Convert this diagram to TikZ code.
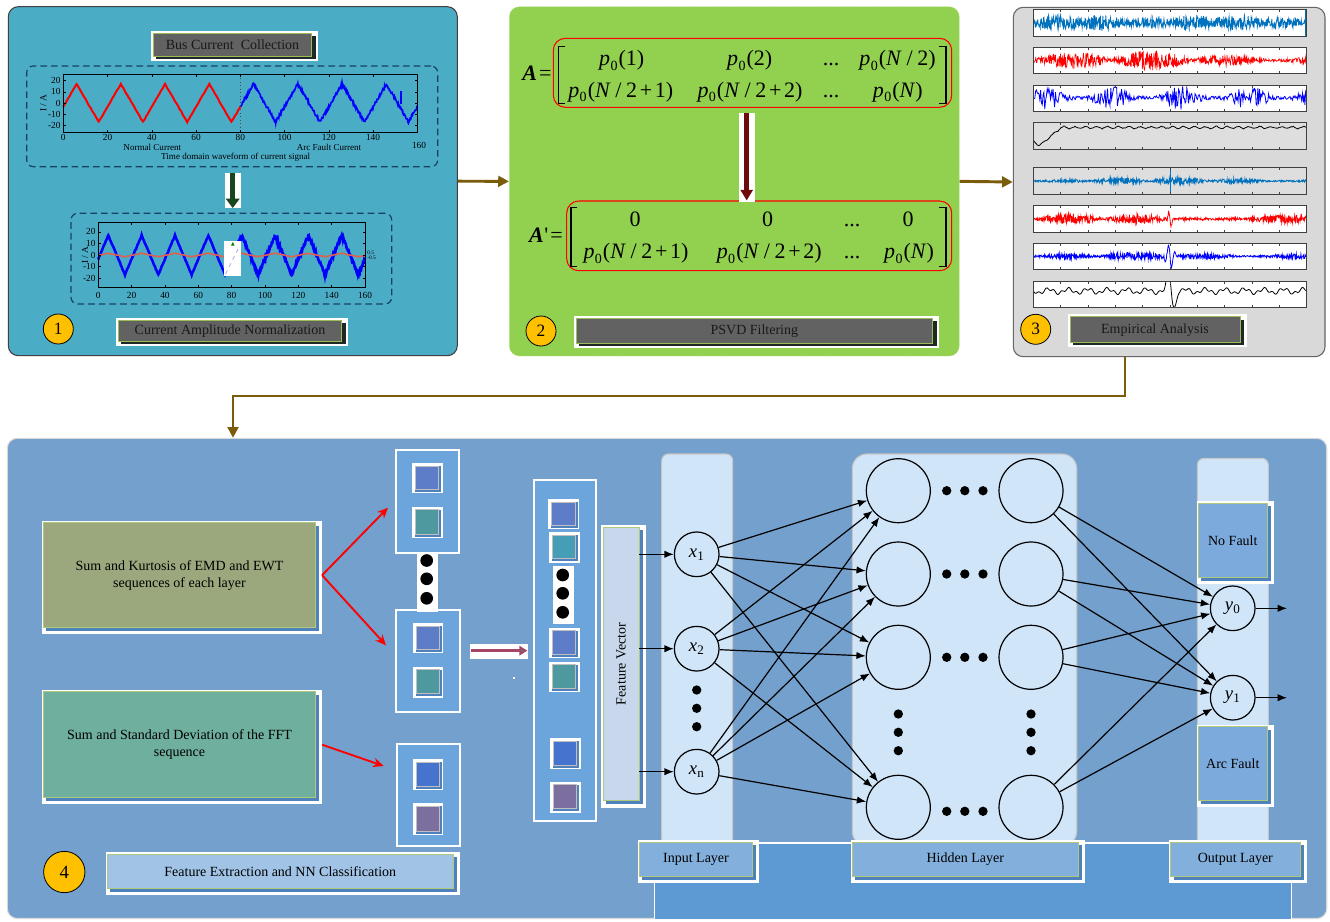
\documentclass[tikz,border=0pt]{standalone}
\usepackage{fontspec}
\setmainfont{Liberation Serif}
\usetikzlibrary{arrows.meta,fit,calc}
\definecolor{pone}{RGB}{75,172,198}
\definecolor{ptwo}{RGB}{146,208,80}
\definecolor{pthree}{RGB}{217,217,217}
\definecolor{pfour}{RGB}{116,160,205}
\definecolor{tgray}{RGB}{98,98,98}
\definecolor{tgreen}{RGB}{155,187,89}
\definecolor{tshadow}{RGB}{30,40,38}
\definecolor{gold}{RGB}{255,192,0}
\definecolor{brownc}{RGB}{122,92,10}
\definecolor{dashblue}{RGB}{25,65,100}
\definecolor{sigblue}{RGB}{0,114,189}
\definecolor{bandc}{RGB}{208,229,248}
\definecolor{colbox}{RGB}{108,165,220}
\definecolor{shadowblue}{RGB}{79,129,189}
\definecolor{sqblue}{RGB}{93,125,200}
\definecolor{sqteal}{RGB}{78,152,160}
\definecolor{sqcyan}{RGB}{70,158,182}
\definecolor{sqroyal}{RGB}{70,115,205}
\definecolor{sqpurple}{RGB}{125,110,160}
\definecolor{olivebox}{RGB}{155,168,125}
\definecolor{tealbox}{RGB}{111,175,158}
\definecolor{fvbox}{RGB}{200,215,235}
\definecolor{lablue}{RGB}{130,175,220}
\definecolor{febox}{RGB}{160,195,230}
\definecolor{deepblue}{RGB}{93,153,210}
\definecolor{outbox}{RGB}{125,170,220}
\definecolor{darkred}{RGB}{110,10,10}
\definecolor{darkgreen}{RGB}{25,70,30}
\definecolor{salmon}{RGB}{225,95,80}
\definecolor{stripgray}{RGB}{222,222,222}
\definecolor{fvarrowc}{RGB}{165,70,100}
\pgfmathdeclarefunction{triw}{1}{%
  \begingroup\pgfmathparse{17-3.4*abs(mod(#1+4,20)-10)}\pgfmathsmuggle\pgfmathresult\endgroup}
% dark title box: x1 y1 x2 y2 name text
\newcommand{\tbox}[6]{%
  \fill[white] ({#1-2},{#2-2.5}) rectangle ({#3+6.5},{#4+4.5});
  \fill[tshadow] ({#1+3},{#2+3}) rectangle ({#3+4},{#4+2.5});
  \node[fit={(#1,#2) (#3,#4)}, inner sep=0pt, fill=tgray, draw=tgreen, line width=0.7pt] (#5) {};
  \node[inner sep=0pt, text=black!90] (#5t) at (#5.center) {#6};}
% light box: x1 y1 x2 y2 name fill text
\newcommand{\gbox}[7]{%
  \fill[white] ({#1-1.6},{#2-2.2}) rectangle ({#3+6.5},{#4+6.5});
  \fill[shadowblue] ({#1+3},{#2+3}) rectangle ({#3+3.5},{#4+3.5});
  \node[fit={(#1,#2) (#3,#4)}, inner sep=0pt, fill=#6, draw=tgreen!80!white, line width=0.6pt] (#5) {};
  \node[inner sep=0pt, align=center] (#5t) at (#5.center) {#7};}
% small square: white frame x1 y1 x2 y2, colour
\newcommand{\sqr}[5]{%
  \fill[white] (#1,#2) rectangle (#3,#4);
  \fill[shadowblue] ({#1+3},{#2+3}) rectangle ({#3-1.5},{#4-1.5});
  \fill[#5] ({#1+3},{#2+3}) rectangle ({#3-4},{#4-4});
  \draw[gray!50, line width=0.4pt] ({#1+3},{#2+3}) rectangle ({#3-4},{#4-4});}
% strip frame with ticks
\newcommand{\stripframe}[2]{%
  \draw[black!75, line width=0.6pt] (1033.3,#1) rectangle (1306.7,#2);
  \foreach \k in {1,...,9}{%
    \draw[black!75, line width=0.4pt] ({1033.3+27.34*\k},#1) -- ++(0,2.5);
    \draw[black!75, line width=0.4pt] ({1033.3+27.34*\k},#2) -- ++(0,-2.5);}}
\begin{document}
\begin{tikzpicture}[x=0.75pt,y=-0.75pt, font=\fontsize{10.5}{12.6}\selectfont,
  brownarrow/.style={draw=brownc, line width=2.2pt, -{Triangle[length=8pt,width=8pt]}},
  neuron/.style={circle, draw, line width=0.9pt, fill=bandc, minimum size=33.5pt, inner sep=0pt, font=\fontsize{14}{14}\selectfont},
  hneuron/.style={circle, draw, line width=0.9pt, fill=bandc, minimum size=48pt, inner sep=0pt},
  netarrow/.style={line width=0.9pt, -{Latex[length=7pt,width=5.5pt]}},
  redarrow/.style={draw=red, line width=1.4pt, -{Stealth[length=8pt,width=7pt]}},
  numc/.style={circle, draw, line width=0.6pt, fill=gold, minimum size=22.5pt, inner sep=0pt, font=\fontsize{13}{13}\selectfont},
  tick/.style={font=\fontsize{7}{7}\selectfont, inner sep=0.5pt},
  lbl/.style={font=\fontsize{6.8}{7}\selectfont, inner sep=0.5pt},
  ent/.style={anchor=base, inner sep=0pt, font=\fontsize{16.5}{16.5}\selectfont},
  hdot/.style={circle, fill=black, minimum size=7pt, inner sep=0pt},
  bdot/.style={circle, fill=black, minimum size=9.5pt, inner sep=0pt},
  dbox/.style={draw=dashblue, line width=0.9pt, dash pattern=on 5pt off 3pt, rounded corners=5pt, inner sep=0pt}
]
\useasboundingbox (0,0) rectangle (1330,921);
\fill[white] (0,0) rectangle (1330,921);

% ================= PANELS =================
\node[fit={(8.3,6.7) (457.3,355.7)}, inner sep=0pt, fill=pone, draw=black!75, line width=0.8pt, rounded corners=7.5pt] (p1) {};
\node[fit={(509.3,6.7) (959.3,356)}, inner sep=0pt, fill=ptwo, draw=ptwo!60!white, line width=0.6pt, dotted, rounded corners=7.5pt] (p2) {};
\node[fit={(1013.3,7.3) (1325,356.7)}, inner sep=0pt, fill=pthree, draw=black!60, line width=0.8pt, rounded corners=7.5pt] (p3) {};
\node[fit={(7.3,438.3) (1326.7,918.5)}, inner sep=0pt, fill=pfour, draw=gray!30, line width=0.8pt, rounded corners=7.5pt] (p4) {};

\draw[brownarrow] (p1.east) -- (p2.west);
\draw[brownarrow] (p2.east) -- (p3.west);
\coordinate (ex) at (1125,0);
\coordinate (ey) at (0,396);
\coordinate (ex2) at (233,0);
\draw[brownarrow] (p3.south -| ex) |- (ex2 |- ey) -- (p4.north -| ex2);

% ================= PANEL 1 =================
\tbox{153.3}{33.3}{311.7}{56.7}{t1}{Bus Current~ Collection}
\node[fit={(26.7,66) (437.7,166.7)}, dbox] (d1) {};
% plot 1
\draw[red, line width=1.5pt] plot[domain=0:80, samples=161, variable=\t] ({63.3+2.2125*\t},{103-1.115*(triw(\t)+0.4*rand)});
\draw[blue, line width=1.2pt] plot[domain=80:160, samples=401, variable=\t] ({63.3+2.2125*\t},{103-1.115*(triw(\t)+1.3*rand)});
\draw[blue, line width=1pt] ({63.3+2.2125*152.6},{103-1.115*11}) -- ({63.3+2.2125*152.6},{103-1.115*(-1)});
\draw[black!70, dotted, line width=0.6pt] (240.3,74.7) -- (240.3,132.7);
\draw[line width=0.6pt] (63.3,74.7) rectangle (417.3,132.7);
\foreach \k [evaluate=\k as \l using int(20*\k)] in {0,...,8}{
  \draw[line width=0.4pt] ({63.3+44.25*\k},132.7) -- ++(0,-2.5);
  \draw[line width=0.4pt] ({63.3+44.25*\k},74.7) -- ++(0,2.5);}
\foreach \k [evaluate=\k as \l using int(20*\k)] in {0,...,7}{
  \node[tick, anchor=north] (xa\k) at ({63.3+44.25*\k},133.6) {\l};}
\node[tick] (xa8) at (419,145.7) {160};
\foreach \v in {-20,-10,0,10,20}{
  \draw[line width=0.4pt] (63.3,{103-1.115*\v}) -- ++(2.5,0);
  \draw[line width=0.4pt] (417.3,{103-1.115*\v}) -- ++(-2.5,0);
  \node[tick, anchor=east] (ya\v) at (61.5,{103-1.115*\v}) {\v};}
\node[tick, rotate=90] (yl1) at (43.3,103) {I / A};
\node[lbl] (nc) at (152.3,147.3) {Normal Current};
\node[lbl] (afc) at (329,147.3) {Arc Fault Current};
\node[lbl] (tdw) at (235.7,157.3) {Time domain waveform of current signal};

% green arrow
\node[fit={(71,213.3) (391.7,304)}, dbox] (d2) {};
\coordinate (gx) at (232.7,0);
\fill[white] (225,173.3) rectangle (240.7,208.3);
\draw[darkgreen, line width=4pt, -{Triangle[length=7pt,width=10pt]}, shorten <=4.5pt, shorten >=3.5pt] (d1.south -| gx) -- (d2.north -| gx);

% plot 2
\draw[blue, line width=1.9pt] plot[domain=0:80, samples=161, variable=\t] ({98.3+1.667*\t},{255-1.16*(triw(\t)+0.5*rand)});
\draw[blue, line width=1.9pt] plot[domain=80:160, samples=321, variable=\t] ({98.3+1.667*\t},{255-1.16*(triw(\t)+1.3*rand)});
\draw[salmon, line width=1.2pt] plot[domain=0:160, samples=161, variable=\t] ({98.3+1.667*\t},{255-1.16*(0.09*triw(\t)+0.15*rand)});
\fill[white] (224.3,240.7) rectangle (240.7,276);
\draw[blue!40, dashed, line width=0.5pt] (225.5,274) -- (239.5,246);
\fill[green!50!black] (231,245.5) -- (234.5,245.5) -- (232.75,242) -- cycle;
\draw[line width=0.6pt] (98.3,222.7) rectangle (365,287.3);
\foreach \k in {0,...,8}{
  \draw[line width=0.4pt] ({98.3+33.34*\k},287.3) -- ++(0,-2.5);
  \draw[line width=0.4pt] ({98.3+33.34*\k},222.7) -- ++(0,2.5);}
\foreach \k [evaluate=\k as \l using int(20*\k)] in {0,...,8}{
  \node[tick] (xb\k) at ({98.3+33.34*\k},295.5) {\l};}
\foreach \v in {-20,-10,0,10,20}{
  \draw[line width=0.4pt] (98.3,{255-1.16*\v}) -- ++(2.5,0);
  \draw[line width=0.4pt] (365,{255-1.16*\v}) -- ++(-2.5,0);
  \node[tick, anchor=east] (yb\v) at (96.5,{255-1.16*\v}) {\v};}
\node[tick, rotate=90] (yl2) at (85,255) {I / A};
\node[font=\fontsize{4}{4}\selectfont, inner sep=0pt, anchor=west] (r05) at (367,252.3) {0.5};
\node[font=\fontsize{4}{4}\selectfont, inner sep=0pt, anchor=west] (rm05) at (367,257.8) {-0.5};

\node[numc] (n1) at (58.3,329) {1};
\tbox{118.3}{320}{341.7}{341.7}{t2}{Current Amplitude Normalization}

% ================= PANEL 2 =================
\node[fit={(553.3,38.3) (951.7,107.3)}, draw=red, line width=0.8pt, rounded corners=9pt, inner sep=0pt] (mA) {};
\node[fit={(566.7,201) (951.7,270.7)}, draw=red, line width=0.8pt, rounded corners=9pt, inner sep=0pt] (mAp) {};
\newcommand{\pz}[1]{\textit{p}\kern0.3pt\raisebox{-0.45ex}{\fontsize{10.5}{10.5}\selectfont 0}\kern0.8pt(#1)}
\newcommand{\Nh}{\textit{N}\kern3.5pt/\kern3.5pt2}
\newcommand{\pl}{\kern2pt+\kern2pt}
\node[ent] (aA) at (537,80) {\textbf{\textit{A}}\kern1.5pt=};
\node[ent] (a11) at (621.7,65.7) {\pz{1}};
\node[ent] (a12) at (749.7,65.7) {\pz{2}};
\node[ent] (a13) at (831,65.7) {...};
\node[ent] (a14) at (897.5,65.7) {\pz{\Nh}};
\node[ent] (a21) at (620.8,97.4) {\pz{\Nh\pl1}};
\node[ent] (a22) at (750,97.4) {\pz{\Nh\pl2}};
\node[ent] (a23) at (831,97.4) {...};
\node[ent] (a24) at (897.8,97.4) {\pz{\textit{N}}};
\draw[line width=0.8pt] (565,46.7) -- (558.3,46.7) -- (558.3,103.3) -- (565,103.3);
\draw[line width=0.8pt] (939.3,46.7) -- (946,46.7) -- (946,103.3) -- (939.3,103.3);
\node[ent] (aAp) at (546,242.5) {\textbf{\textit{A}}\kern0.5pt\textquotesingle\kern1.5pt=};
\node[ent] (b11) at (635,226.7) {0};
\node[ent] (b12) at (767.7,226.7) {0};
\node[ent] (b13) at (852,226.7) {...};
\node[ent] (b14) at (908,226.7) {0};
\node[ent] (b21) at (636,258.7) {\pz{\Nh\pl1}};
\node[ent] (b22) at (769.3,258.7) {\pz{\Nh\pl2}};
\node[ent] (b23) at (852,258.7) {...};
\node[ent] (b24) at (909,258.7) {\pz{\textit{N}}};
\draw[line width=0.8pt] (577.3,207.3) -- (571,207.3) -- (571,266.7) -- (577.3,266.7);
\draw[line width=0.8pt] (939.3,207.3) -- (946,207.3) -- (946,266.7) -- (939.3,266.7);
\coordinate (rx) at (746.7,0);
\fill[white] (739,112.7) rectangle (755,201.7);
\draw[darkred, line width=4pt, -{Triangle[length=8pt,width=9pt]}, shorten <=4pt] (mA.south -| rx) -- (mAp.north -| rx);
\node[numc] (n2) at (541,331) {2};
\tbox{576}{318.3}{932.7}{343.3}{t3}{PSVD Filtering}

% ================= PANEL 3 =================
\fill[white] (1033.3,9.3) rectangle (1306.7,36);
\fill[white] (1033.3,47.3) rectangle (1306.7,73.3);
\fill[white] (1033.3,85) rectangle (1306.7,111);
\fill[stripgray] (1033.3,122.3) rectangle (1306.7,149);
\fill[stripgray] (1033.3,167.7) rectangle (1306.7,194.3);
\fill[white] (1033.3,205.7) rectangle (1306.7,232.3);
\fill[white] (1033.3,243.3) rectangle (1306.7,269.3);
\fill[white] (1033.3,281) rectangle (1306.7,307.7);
\pgfmathsetseed{7}
\begin{scope}
\clip (1033.3,9.3) rectangle (1306.7,36);
\draw[sigblue, line width=0.6pt] plot[domain=0:1, samples=650, variable=\t] ({1034+272*\t},{22.7+(2.5+3.2*abs(sin(1080*\t))+2.2*abs(sin(330*\t+40)))*rand});
\draw[sigblue, line width=1pt] (1305.5,10) -- (1305.5,36);
\end{scope}
\begin{scope}
\clip (1033.3,47.3) rectangle (1306.7,73.3);
\draw[red, line width=0.5pt] plot[domain=0:1, samples=650, variable=\t] ({1034+272*\t},{60.3+(1.3+9*abs(sin(600*\t+10))*abs(sin(170*\t+30)))*rand});
\end{scope}
\begin{scope}
\clip (1033.3,85) rectangle (1306.7,111);
\draw[blue, line width=0.6pt] plot[domain=0:1, samples=330, variable=\t] ({1034+272*\t},{98+(1.8+10*abs(sin(720*\t+60))^3)*rand});
\end{scope}
\begin{scope}
\clip (1033.3,122.3) rectangle (1306.7,149);
\draw[black, line width=0.6pt] plot[domain=0:1, samples=240, variable=\t] ({1034+272*\t},{127.5+18*max(0,1-abs(\t-0.02)/0.08)+1.6*sin(9000*\t)*(0.6+0.4*rand)});
\end{scope}
\begin{scope}
\clip (1033.3,167.7) rectangle (1306.7,194.3);
\draw[sigblue, line width=0.6pt] plot[domain=0:1, samples=650, variable=\t] ({1034+272*\t},{181+(0.7+3*abs(sin(800*\t+20))*abs(sin(190*\t)))*rand});
\draw[sigblue, line width=1pt] (1170.7,168) -- (1170.7,194.3);
\end{scope}
\begin{scope}
\clip (1033.3,205.7) rectangle (1306.7,232.3);
\draw[red, line width=0.6pt] plot[domain=0:1, samples=650, variable=\t] ({1034+272*\t},{219+(0.9+4.5*abs(sin(700*\t))*abs(sin(200*\t+50)))*rand+15*max(0,1-abs(\t-0.5)/0.01)*sin(12000*(\t-0.5))});
\end{scope}
\begin{scope}
\clip (1033.3,243.3) rectangle (1306.7,269.3);
\draw[blue, line width=0.6pt] plot[domain=0:1, samples=650, variable=\t] ({1034+272*\t},{256.3+(0.8+3.5*abs(sin(650*\t+30))*abs(sin(210*\t+10)))*rand+14*max(0,1-abs(\t-0.5)/0.025)*sin(14400*(\t-0.5))});
\end{scope}
\begin{scope}
\clip (1033.3,281) rectangle (1306.7,307.7);
\draw[black, line width=0.6pt] plot[domain=0:1, samples=400, variable=\t] ({1034+272*\t},{291+2.2*sin(5000*\t)+1.4*sin(13000*\t+40)+28*max(0,1-abs(\t-0.505)/0.028)*sin(6400*(\t-0.505))});
\end{scope}
\stripframe{9.3}{36}
\stripframe{47.3}{73.3}
\stripframe{85}{111}
\stripframe{122.3}{149}
\stripframe{167.7}{194.3}
\stripframe{205.7}{232.3}
\stripframe{243.3}{269.3}
\stripframe{281}{307.7}
\node[numc] (n3) at (1035.7,329.3) {3};
\tbox{1070}{316.7}{1240}{342.7}{t4}{Empirical Analysis}

% ================= PANEL 4 =================
\fill[deepblue] (654.3,843) rectangle (1291.7,918.5);
\draw[white, line width=0.8pt] (654.3,918.5) -- (654.3,843) -- (1291.7,843) -- (1291.7,918.5);

\gbox{43.3}{522.7}{315.7}{627.7}{k1}{olivebox}{Sum and Kurtosis of EMD and EWT\\sequences of each layer}
\gbox{43.3}{691.7}{315.7}{797.7}{k2}{tealbox}{Sum and Standard Deviation of the FFT\\sequence}

% column boxes
\node[fit={(396,450.3) (459,553)}, inner sep=0pt, fill=colbox, draw=white, line width=1.5pt] (cA) {};
\node[fit={(396,610.3) (459.7,712.3)}, inner sep=0pt, fill=colbox, draw=white, line width=1.5pt] (cB) {};
\node[fit={(396.7,744.3) (459.7,845.7)}, inner sep=0pt, fill=colbox, draw=white, line width=1.5pt] (cC) {};
\sqr{412.3}{463.3}{442.7}{493.3}{sqblue}
\sqr{412.3}{506.7}{442.7}{538.3}{sqteal}
\sqr{413}{623.3}{443.3}{653.3}{sqblue}
\sqr{413}{666.7}{443.3}{697.7}{sqteal}
\sqr{413}{759.3}{443.3}{790}{sqroyal}
\sqr{413}{803.3}{443.3}{835}{sqpurple}
\fill[white] (417.3,554) rectangle (438.3,611.7);
\node[bdot] (da1) at (426.7,560.5) {};
\node[bdot] (da2) at (426.7,578.8) {};
\node[bdot] (da3) at (426.7,598.3) {};

\draw[redarrow] ([xshift=4.5pt]k1.east) -- ([shift={(-7,6)}]cA.west);
\draw[redarrow] ([xshift=4.5pt]k1.east) -- ([shift={(-9,-16)}]cB.west);
\draw[redarrow] ([xshift=4.5pt]k2.east) -- ([shift={(-12,-29)}]cC.west);

% tall column
\node[fit={(533.7,480) (596.3,821.3)}, inner sep=0pt, fill=colbox, draw=white, line width=1.5pt] (tc) {};
\sqr{548.3}{499.3}{579}{529.3}{sqblue}
\sqr{549}{532.3}{579.7}{562.7}{sqcyan}
\sqr{549}{627.7}{579.7}{658.3}{sqblue}
\sqr{549}{661.7}{579.7}{692.3}{sqteal}
\sqr{550}{738.3}{580.7}{769.3}{sqroyal}
\sqr{550}{781.7}{580.7}{812.7}{sqpurple}
\fill[white] (553.3,566) rectangle (574.3,624.3);
\node[bdot] (db1) at (562.7,575) {};
\node[bdot] (db2) at (562.7,593.3) {};
\node[bdot] (db3) at (562.7,612.3) {};

% arrow to tall column
\fill[white] (470,644) rectangle (527.7,659);
\draw[fvarrowc, line width=2.4pt, -{Triangle[length=6pt,width=7pt, fill=shadowblue]}, shorten <=7.5pt, shorten >=4pt] (cB.east |- tc.west) -- (tc.west);
\fill[white] (513.3,676.7) rectangle (515.3,678.7);

% feature vector
\fill[white] (601,525) rectangle (645.7,807.7);
\fill[shadowblue] (606,530) rectangle (642.5,804);
\node[fit={(603.3,527.3) (639,800.7)}, inner sep=0pt, fill=fvbox, draw=tgreen!80!white, line width=0.6pt] (fv) {};
\node[rotate=90, inner sep=0pt] (fvt) at (fv.center) {Feature Vector};

% layer bands
\node[fit={(661.7,454) (732.7,846)}, inner sep=0pt, fill=bandc, draw=gray!45, line width=0.8pt, rounded corners=5pt] (ib) {};
\node[fit={(852.3,454) (1076.7,846)}, inner sep=0pt, fill=bandc, draw=gray!45, line width=0.8pt, rounded corners=11pt] (hb) {};
\node[fit={(1197.3,458.3) (1268.3,846)}, inner sep=0pt, fill=bandc, draw=gray!45, line width=0.8pt, rounded corners=5pt] (ob) {};

% input neurons
\node[neuron] (x1) at (696.7,554.3) {\textit{x}\textsubscript{1}};
\node[neuron] (x2) at (696.7,648.7) {\textit{x}\textsubscript{2}};
\node[neuron] (xn) at (696.7,771.7) {\textit{x}\textsubscript{n}};
\node[hdot] (xd1) at (696.7,690) {};
\node[hdot] (xd2) at (696.7,708.3) {};
\node[hdot] (xd3) at (696.7,726.7) {};
\draw[netarrow] (fv.east |- x1) -- (x1);
\draw[netarrow] (fv.east |- x2) -- (x2);
\draw[netarrow] (fv.east |- xn) -- (xn);

% hidden neurons
\foreach \i/\y in {1/490.7,2/574,3/657.3,4/807.3}{
  \node[hneuron] (h\i) at (898.3,\y) {};
  \node[hneuron] (g\i) at (1031,\y) {};}
\foreach \i/\y in {1/490.7,2/574,3/657.3,4/811.3}{
  \node[hdot] (hd\i a) at (946.7,\y) {};
  \node[hdot] (hd\i b) at (964.8,\y) {};
  \node[hdot] (hd\i c) at (983,\y) {};}
\foreach \y [count=\j] in {714,732.3,750.7}{
  \node[hdot] (vl\j) at (898.3,\y) {};
  \node[hdot] (vr\j) at (1031,\y) {};}
\foreach \s in {x1,x2,xn}{
  \foreach \i in {1,...,4}{
    \draw[netarrow] (\s) -- (h\i);}}

% output
\gbox{1198.3}{503.3}{1267.3}{577.3}{nf}{outbox}{No Fault}
\gbox{1198.3}{726.7}{1267.3}{800.7}{af}{outbox}{Arc Fault}
\node[neuron] (y0) at (1232.7,608.3) {\textit{y}\textsubscript{0}};
\node[neuron] (y1) at (1232.7,697.7) {\textit{y}\textsubscript{1}};
\foreach \i in {1,...,4}{
  \draw[netarrow] (g\i) -- (y0);
  \draw[netarrow] (g\i) -- (y1);}
\coordinate (o0) at (1287,608.3);
\coordinate (o1) at (1287,697.7);
\draw[netarrow] (y0) -- (o0);
\draw[netarrow] (y1) -- (o1);

% layer labels
\gbox{639.3}{842.3}{752.7}{876.7}{il}{lablue}{Input Layer}
\gbox{852.3}{842.3}{1078.3}{876.7}{hl}{lablue}{Hidden Layer}
\gbox{1170.7}{842.3}{1300}{876.7}{ol}{lablue}{Output Layer}

\node[numc, minimum size=31pt, font=\fontsize{14}{14}\selectfont] (n4) at (64.3,872) {4};
\gbox{107.3}{854.3}{453.3}{888.7}{fe}{febox}{Feature Extraction and NN Classification}
\end{tikzpicture}
\end{document}
